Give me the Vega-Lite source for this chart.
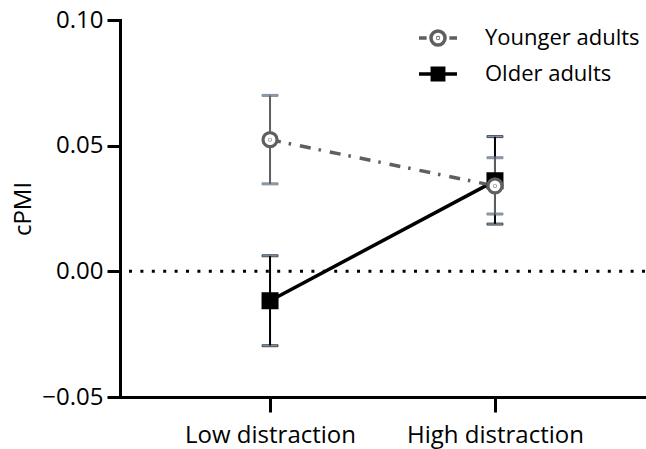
{
  "$schema": "https://vega.github.io/schema/vega-lite/v6.json",
  "autosize": {"type": "none"},
  "padding": {"left": 120, "top": 20, "right": 1, "bottom": 52},
  "width": 525,
  "height": 377,
  "background": "white",
  "config": {
    "view": {"stroke": null},
    "font": "Open Sans",
    "axis": {
      "domainColor": "black", "domainWidth": 3, "domainCap": "square",
      "tickColor": "black", "tickWidth": 3,
      "labelFont": "Open Sans", "labelFontSize": 24, "labelColor": "black",
      "titleFont": "Open Sans", "titleFontSize": 24, "titleFontWeight": "normal", "titleColor": "black",
      "grid": false
    }
  },
  "data": {
    "values": [
      {"group": "Older adults", "cond": "Low distraction", "y": -0.0117, "lo": -0.0296, "hi": 0.0062},
      {"group": "Older adults", "cond": "High distraction", "y": 0.0360, "lo": 0.0188, "hi": 0.0536},
      {"group": "Younger adults", "cond": "Low distraction", "y": 0.0524, "lo": 0.0348, "hi": 0.0700},
      {"group": "Younger adults", "cond": "High distraction", "y": 0.0340, "lo": 0.0228, "hi": 0.0452}
    ]
  },
  "encoding": {
    "x": {
      "field": "cond", "type": "nominal",
      "sort": ["Low distraction", "High distraction"],
      "scale": {"type": "point", "padding": 0.667},
      "axis": {"title": null, "labelAngle": 0, "tickSize": 15, "labelPadding": 11}
    },
    "stroke": {
      "field": "group", "type": "nominal",
      "scale": {"domain": ["Younger adults", "Older adults"], "range": ["#5f5f5f", "#000000"]},
      "legend": {
        "orient": "none", "legendX": 297, "legendY": -3, "title": null, "padding": 0,
        "labelFont": "Open Sans", "labelFontSize": 22, "labelColor": "black",
        "symbolSize": 1444, "symbolStrokeWidth": 3.5, "symbolOpacity": 1,
        "labelOffset": 26, "rowPadding": -1
      }
    }
  },
  "layer": [
    {
      "data": {"values": [{"v": 0}]},
      "mark": {"type": "rule", "color": "black", "strokeWidth": 3, "strokeDash": [3, 8.4], "strokeCap": "butt"},
      "encoding": {"x": null, "stroke": null, "y": {"field": "v", "type": "quantitative"}}
    },
    {
      "transform": [{"filter": "datum.group === 'Older adults'"}],
      "mark": {"type": "line", "strokeWidth": 3.5},
      "encoding": {
        "y": {
          "field": "y", "type": "quantitative",
          "scale": {"domain": [-0.05, 0.1], "nice": false, "zero": false},
          "axis": {"values": [-0.05, 0, 0.05, 0.1], "format": ".2f", "tickSize": 13, "labelPadding": 4, "title": "cPMI", "titlePadding": 6}
        },
        "order": {"field": "cond", "sort": "descending"}
      }
    },
    {
      "transform": [{"filter": "datum.group === 'Younger adults'"}],
      "mark": {"type": "line", "strokeWidth": 3.5, "strokeDash": [11, 8, 2.5, 9]},
      "encoding": {
        "y": {"field": "y", "type": "quantitative"},
        "order": {"field": "cond", "sort": "descending"}
      }
    },
    {
      "mark": {"type": "rule", "strokeWidth": 2},
      "encoding": {
        "y": {"field": "lo", "type": "quantitative"},
        "y2": {"field": "hi"}
      }
    },
    {
      "mark": {"type": "tick", "size": 16, "thickness": 2},
      "encoding": {
        "y": {"field": "lo", "type": "quantitative"}
      }
    },
    {
      "mark": {"type": "tick", "size": 16, "thickness": 2},
      "encoding": {
        "y": {"field": "hi", "type": "quantitative"}
      }
    },
    {
      "transform": [{"filter": "datum.group === 'Older adults'"}],
      "mark": {"type": "point", "shape": "square", "filled": false, "fill": "black", "strokeWidth": 3, "size": 196, "opacity": 1},
      "encoding": {
        "y": {"field": "y", "type": "quantitative"}
      }
    },
    {
      "transform": [{"filter": "datum.group === 'Younger adults'"}],
      "mark": {"type": "point", "shape": "M-1,0A1,1 0 1,0 1,0A1,1 0 1,0 -1,0ZM-0.04,0A0.04,0.04 0 1,0 0.04,0A0.04,0.04 0 1,0 -0.04,0Z", "filled": false, "fill": "white", "strokeWidth": 3.2, "size": 196, "opacity": 1},
      "encoding": {
        "y": {"field": "y", "type": "quantitative"}
      }
    },
    {
      "mark": {"type": "point", "filled": false, "strokeWidth": 3, "opacity": 0},
      "encoding": {
        "y": {"field": "y", "type": "quantitative"},
        "fill": {
          "field": "group", "type": "nominal",
          "scale": {"domain": ["Younger adults", "Older adults"], "range": ["white", "black"]},
          "legend": null
        },
        "shape": {
          "field": "group", "type": "nominal",
          "scale": {"domain": ["Younger adults", "Older adults"], "range": [
            "M-1,0L-0.6,0M0.6,0L1,0M-0.37,0A0.37,0.37 0 1,0 0.37,0A0.37,0.37 0 1,0 -0.37,0ZM-0.02,0A0.02,0.02 0 1,0 0.02,0A0.02,0.02 0 1,0 -0.02,0Z",
            "M-1,0L1,0M-0.3,-0.3L0.3,-0.3L0.3,0.3L-0.3,0.3Z"
          ]},
          "legend": null
        }
      }
    }
  ]
}
